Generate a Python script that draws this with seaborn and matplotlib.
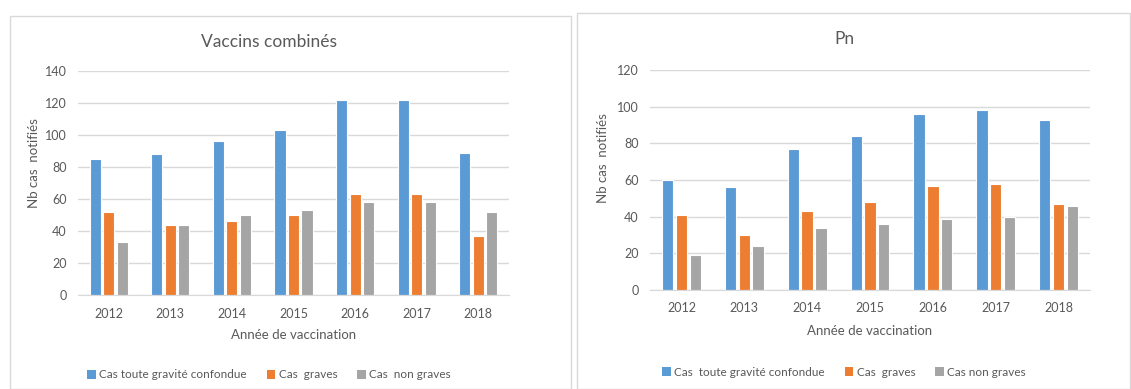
import numpy as np
import pandas as pd
import seaborn as sns
import matplotlib.pyplot as plt
from matplotlib.patches import Rectangle, Patch

annees = ['2012', '2013', '2014', '2015', '2016', '2017', '2018']

combines_total = [85, 88, 96, 103, 122, 122, 89]
combines_graves = [52, 44, 46, 50, 63, 63, 37]
combines_non_graves = [33, 44, 50, 53, 58, 58, 52]

pn_total = [60, 56, 77, 84, 96, 98, 93]
pn_graves = [41, 30, 43, 48, 57, 58, 47]
pn_non_graves = [19, 24, 34, 36, 39, 40, 46]

labels_gauche = ['Cas toute gravité confondue', 'Cas  graves', 'Cas  non graves']
labels_droite = ['Cas  toute gravité confondue', 'Cas  graves', 'Cas non graves']

couleurs = ['#5B9BD5', '#ED7D31', '#A5A5A5']
gris_texte = '#595959'
gris_grille = '#D9D9D9'

sns.set_style('white')
plt.rcParams['font.family'] = ['Lato', 'DejaVu Sans']

W, H = 1131, 389
fig = plt.figure(figsize=(W / 100, H / 100), dpi=100)


def px_axes(x0, y0, x1, y1):
    return fig.add_axes([x0 / W, 1 - y1 / H, (x1 - x0) / W, (y1 - y0) / H])


def long_df(total, graves, non_graves):
    return pd.DataFrame({
        'annee': annees * 3,
        'nb': total + graves + non_graves,
        'type': ['t'] * 7 + ['g'] * 7 + ['n'] * 7,
    })


def graphique(ax, df, titre, ymax, labels, cx, y_titre, y_leg, pos_ylab, y_xlab):
    sns.barplot(data=df, x='annee', y='nb', hue='type', palette=couleurs, saturation=1,
                width=0.66, gap=0.18, edgecolor='white', linewidth=0.8,
                ax=ax, legend=False, errorbar=None)
    ax.set_ylim(0, ymax)
    ax.set_xlim(-0.5, 6.5)
    ax.set_yticks(np.arange(0, ymax + 1, 20))
    ax.yaxis.grid(True, color=gris_grille, linewidth=1)
    ax.set_axisbelow(True)
    for s in ['top', 'right', 'left']:
        ax.spines[s].set_visible(False)
    ax.spines['bottom'].set_color(gris_grille)
    ax.tick_params(axis='x', length=0, labelsize=9, colors=gris_texte, pad=9)
    ax.tick_params(axis='y', length=0, labelsize=9, colors=gris_texte, pad=8)
    ax.set_xlabel('')
    ax.set_ylabel('')
    # titre de l'axe x centré sur la zone de tracé
    bb = ax.get_position()
    fig.text((bb.x0 + bb.x1) / 2, 1 - y_xlab / H, 'Année de vaccination', ha='center', va='center',
             fontsize=9.5, color=gris_texte)
    fig.text(pos_ylab[0] / W, 1 - pos_ylab[1] / H, 'Nb cas  notifiés', rotation=90,
             ha='center', va='center', fontsize=9.5, color=gris_texte)
    fig.text(cx / W, 1 - y_titre / H, titre, ha='center', va='center',
             fontsize=12.5, color=gris_texte)
    handles = [Patch(facecolor=c, edgecolor='none') for c in couleurs]
    fig.legend(handles, labels, loc='center', bbox_to_anchor=(cx / W, 1 - y_leg / H),
               ncol=3, frameon=False, fontsize=8.5, handlelength=0.7, handleheight=0.7,
               handletextpad=0.3, columnspacing=1.7, labelcolor=gris_texte)


# Cadres des deux panneaux
fig.patches.append(Rectangle((10 / W, 0), (571 - 10) / W, 1 - 16 / H, transform=fig.transFigure,
                             fill=False, edgecolor='#D9D9D9', linewidth=1))
fig.patches.append(Rectangle((577 / W, 0), (1130 - 577) / W, 1 - 13 / H, transform=fig.transFigure,
                             fill=False, edgecolor='#D9D9D9', linewidth=1))

ax1 = px_axes(78, 71, 509, 295)
graphique(ax1, long_df(combines_total, combines_graves, combines_non_graves),
          'Vaccins combinés', 140, labels_gauche, 269, 42, 375, (34, 163), 335)

ax2 = px_axes(650, 70, 1090, 290)
graphique(ax2, long_df(pn_total, pn_graves, pn_non_graves),
          'Pn', 120, labels_droite, 844, 39, 372, (603, 158), 331)

fig.savefig('out.png', dpi=100)
